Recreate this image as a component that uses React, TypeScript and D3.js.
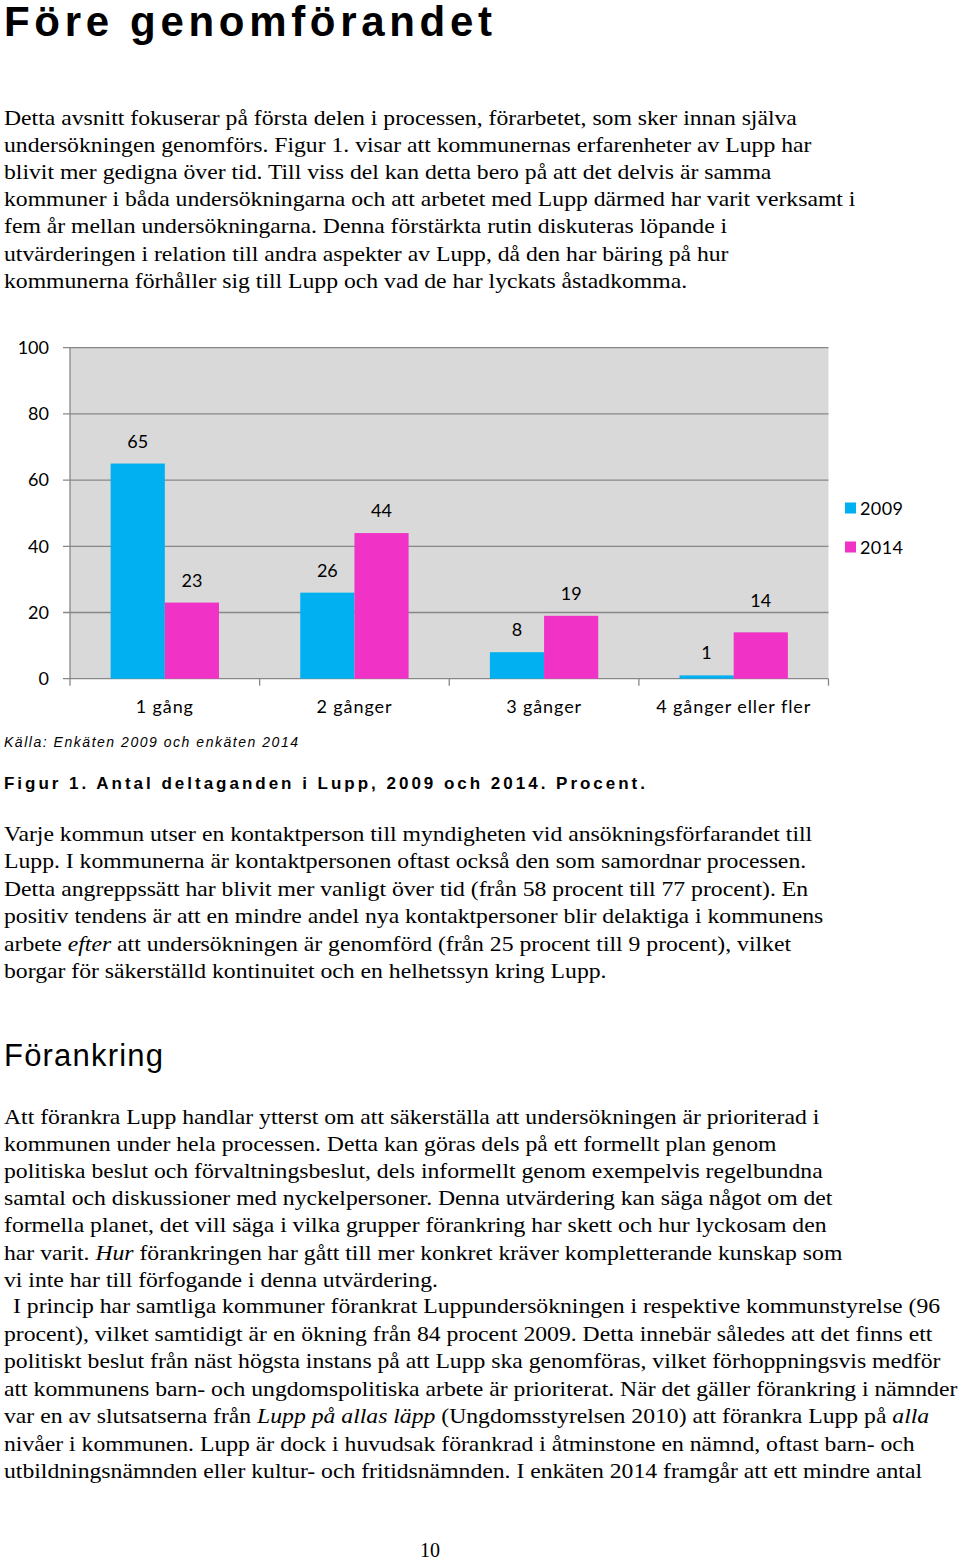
import React from "react";
import * as d3 from "d3";

const categories = ["1 gång", "2 gånger", "3 gånger", "4 gånger eller fler"];
const seriesNames = ["2009", "2014"];
const values2009 = [65, 26, 8, 1];
const values2014 = [23, 44, 19, 14];
const yTicks = [0, 20, 40, 60, 80, 100];
const seriesColors = ["#00b0f0", "#f033c6"];

type Seg = { t: string; i?: boolean };
type Line = Seg[];

const para1: Line[] = [
  [{ t: "Detta avsnitt fokuserar på första delen i processen, förarbetet, som sker innan själva" }],
  [{ t: "undersökningen genomförs. Figur 1. visar att kommunernas erfarenheter av Lupp har" }],
  [{ t: "blivit mer gedigna över tid. Till viss del kan detta bero på att det delvis är samma" }],
  [{ t: "kommuner i båda undersökningarna och att arbetet med Lupp därmed har varit verksamt i" }],
  [{ t: "fem år mellan undersökningarna. Denna förstärkta rutin diskuteras löpande i" }],
  [{ t: "utvärderingen i relation till andra aspekter av Lupp, då den har bäring på hur" }],
  [{ t: "kommunerna förhåller sig till Lupp och vad de har lyckats åstadkomma." }],
];

const para2: Line[] = [
  [{ t: "Varje kommun utser en kontaktperson till myndigheten vid ansökningsförfarandet till" }],
  [{ t: "Lupp. I kommunerna är kontaktpersonen oftast också den som samordnar processen." }],
  [{ t: "Detta angreppssätt har blivit mer vanligt över tid (från 58 procent till 77 procent). En" }],
  [{ t: "positiv tendens är att en mindre andel nya kontaktpersoner blir delaktiga i kommunens" }],
  [{ t: "arbete " }, { t: "efter", i: true }, { t: " att undersökningen är genomförd (från 25 procent till 9 procent), vilket" }],
  [{ t: "borgar för säkerställd kontinuitet och en helhetssyn kring Lupp." }],
];

const para3: Line[] = [
  [{ t: "Att förankra Lupp handlar ytterst om att säkerställa att undersökningen är prioriterad i" }],
  [{ t: "kommunen under hela processen. Detta kan göras dels på ett formellt plan genom" }],
  [{ t: "politiska beslut och förvaltningsbeslut, dels informellt genom exempelvis regelbundna" }],
  [{ t: "samtal och diskussioner med nyckelpersoner. Denna utvärdering kan säga något om det" }],
  [{ t: "formella planet, det vill säga i vilka grupper förankring har skett och hur lyckosam den" }],
  [{ t: "har varit. " }, { t: "Hur", i: true }, { t: " förankringen har gått till mer konkret kräver kompletterande kunskap som" }],
  [{ t: "vi inte har till förfogande i denna utvärdering." }],
];

const para4: Line[] = [
  [{ t: "I princip har samtliga kommuner förankrat Luppundersökningen i respektive kommunstyrelse (96" }],
  [{ t: "procent), vilket samtidigt är en ökning från 84 procent 2009. Detta innebär således att det finns ett" }],
  [{ t: "politiskt beslut från näst högsta instans på att Lupp ska genomföras, vilket förhoppningsvis medför" }],
  [{ t: "att kommunens barn- och ungdomspolitiska arbete är prioriterat. När det gäller förankring i nämnder" }],
  [{ t: "var en av slutsatserna från " }, { t: "Lupp på allas läpp", i: true }, { t: " (Ungdomsstyrelsen 2010) att förankra Lupp på " }, { t: "alla", i: true }],
  [{ t: "nivåer i kommunen. Lupp är dock i huvudsak förankrad i åtminstone en nämnd, oftast barn- och" }],
  [{ t: "utbildningsnämnden eller kultur- och fritidsnämnden. I enkäten 2014 framgår att ett mindre antal" }],
];

const SERIF = "'Liberation Serif', 'Times New Roman', serif";
const SANS = "'Liberation Sans', Arial, sans-serif";
const CHART = "Lato, 'Open Sans', sans-serif";
const STRETCH = 1.185;

function Para({
  lines,
  x,
  y0,
  step,
  firstIndent = 0,
}: {
  lines: Line[];
  x: number;
  y0: number;
  step: number;
  firstIndent?: number;
}) {
  return (
    <g>
      {lines.map((ln, k) => (
        <text
          key={k}
          transform={`translate(${x + (k === 0 ? firstIndent : 0)},${y0 + k * step}) scale(${STRETCH},1)`}
          fontFamily={SERIF}
          fontSize={20}
          fill="#000"
        >
          {ln.map((s, j) => (
            <tspan key={j} fontStyle={s.i ? "italic" : "normal"}>
              {s.t}
            </tspan>
          ))}
        </text>
      ))}
    </g>
  );
}

export default function App() {
  const left = 70;
  const right = 828.5;
  const top = 347.7;
  const bottom = 678.7;

  const y = d3.scaleLinear().domain([0, 100]).range([bottom, top]);
  const x0 = d3.scaleBand<string>().domain(categories).range([left, right]).paddingInner(0).paddingOuter(0);
  const x1 = d3
    .scaleBand<string>()
    .domain(seriesNames)
    .range([0, x0.bandwidth()])
    .paddingInner(0)
    .paddingOuter(0.75);

  const seriesValues = [values2009, values2014];
  const gridColor = "#878787";
  const boundaries = [...categories.map((c) => x0(c) as number), right];

  return (
    <svg
      width={960}
      height={1560}
      style={{ position: "absolute", left: 0, top: 0, display: "block", background: "#fff" }}
    >
      <text x={4} y={36} fontFamily={SANS} fontWeight="bold" fontSize={42} textLength={488} lengthAdjust="spacing">
        Före genomförandet
      </text>

      <Para lines={para1} x={4} y0={124.5} step={27.2} />

      {/* chart */}
      <rect x={left} y={top} width={right - left} height={bottom - top} fill="#d9d9d9" />
      {yTicks.map((t) => (
        <g key={t}>
          <line x1={left - 7} x2={right} y1={y(t)} y2={y(t)} stroke={gridColor} strokeWidth={1.3} />
          <text x={49} y={y(t)} dy="0.35em" textAnchor="end" fontFamily={CHART} fontSize={18} fill="#000">
            {t}
          </text>
        </g>
      ))}
      <line x1={left} x2={left} y1={top} y2={bottom} stroke={gridColor} strokeWidth={1.3} />
      {boundaries.map((b, i) => (
        <line key={i} x1={b} x2={b} y1={bottom} y2={bottom + 7} stroke={gridColor} strokeWidth={1.3} />
      ))}
      {categories.map((c, ci) => (
        <g key={c}>
          {seriesNames.map((s, si) => {
            const v = seriesValues[si][ci];
            const bx = (x0(c) as number) + (x1(s) as number);
            // the label of the last 2014 bar sits a little higher in the original
            const lift = ci === categories.length - 1 && si === 1 ? 9 : 0;
            return (
              <g key={s}>
                <rect x={bx} y={y(v)} width={x1.bandwidth()} height={y(0) - y(v)} fill={seriesColors[si]} />
                <text
                  x={bx + x1.bandwidth() / 2}
                  y={y(v) - 16 - lift}
                  textAnchor="middle"
                  fontFamily={CHART}
                  fontSize={18}
                  fill="#000"
                >
                  {v}
                </text>
              </g>
            );
          })}
          <text
            x={(x0(c) as number) + x0.bandwidth() / 2}
            y={713}
            textAnchor="middle"
            fontFamily={CHART}
            fontSize={18}
            letterSpacing={0.9}
            fill="#000"
          >
            {c}
          </text>
        </g>
      ))}
      {seriesNames.map((s, i) => (
        <g key={s}>
          <rect x={845} y={502.5 + i * 39} width={11} height={11} fill={seriesColors[i]} />
          <text x={860} y={515 + i * 39} fontFamily={CHART} fontSize={18} letterSpacing={0.4} fill="#000">
            {s}
          </text>
        </g>
      ))}

      <text x={4} y={747} fontFamily={SANS} fontStyle="italic" fontSize={14} textLength={294} lengthAdjust="spacing">
        Källa: Enkäten 2009 och enkäten 2014
      </text>
      <text x={4} y={788.5} fontFamily={SANS} fontWeight="bold" fontSize={17} textLength={641} lengthAdjust="spacing">
        Figur 1. Antal deltaganden i Lupp, 2009 och 2014. Procent.
      </text>

      <Para lines={para2} x={4} y0={841} step={27.4} />

      <text x={4} y={1066} fontFamily={SANS} fontSize={31} textLength={159} lengthAdjust="spacing">
        Förankring
      </text>

      <Para lines={para3} x={4} y0={1123.5} step={27.2} />
      <Para lines={para4} x={4} y0={1313} step={27.5} firstIndent={9} />

      <text x={420} y={1557} fontFamily={SERIF} fontSize={20}>
        10
      </text>
    </svg>
  );
}
